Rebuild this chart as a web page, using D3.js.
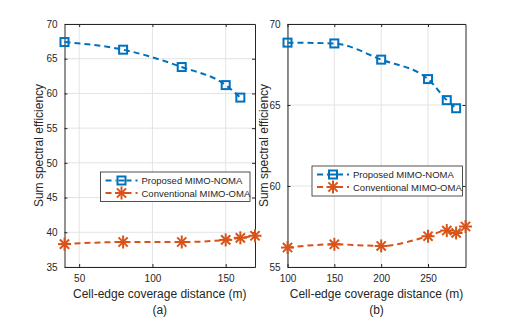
<!DOCTYPE html>
<html>
<head>
<meta charset="utf-8">
<script src="https://cdn.jsdelivr.net/npm/d3@7"></script>
<style>
  body { margin: 0; background: #fff; }
  svg { font-family: "Liberation Sans", Arial, sans-serif; }
</style>
</head>
<body>
<svg id="chart" width="512" height="317"></svg>
<script>
// panel (a)
const distA = [40, 80, 120, 150, 160];
const noma_a = [67.4, 66.3, 63.8, 61.2, 59.4];
const distOmaA = [40, 80, 120, 150, 160, 170];
const oma_a = [38.3, 38.6, 38.6, 38.9, 39.2, 39.5];
const xTicksA = [50, 100, 150];
const yTicksA = [35, 40, 45, 50, 55, 60, 65, 70];

// panel (b)
const distB = [100, 150, 200, 250, 270, 280];
const noma_b = [68.85, 68.8, 67.8, 66.6, 65.3, 64.8];
const distOmaB = [100, 150, 200, 250, 270, 280, 290];
const oma_b = [56.2, 56.4, 56.3, 56.9, 57.25, 57.1, 57.5];
const xTicksB = [100, 150, 200, 250];
const yTicksB = [55, 60, 65, 70];

const seriesNames = ["Proposed MIMO-NOMA", "Conventional MIMO-OMA"];
const blue = "#0072BD", orange = "#D95319";

const svg = d3.select("#chart");

function star(g, x, y, r, color) {
  for (let k = 0; k < 4; k++) {
    let a = k * Math.PI / 4;
    g.append("line")
      .attr("x1", x - r * Math.cos(a)).attr("y1", y - r * Math.sin(a))
      .attr("x2", x + r * Math.cos(a)).attr("y2", y + r * Math.sin(a))
      .attr("stroke", color).attr("stroke-width", 2);
  }
}
function square(g, x, y, s, color) {
  g.append("rect")
    .attr("x", x - s / 2).attr("y", y - s / 2)
    .attr("width", s).attr("height", s)
    .attr("fill", "none").attr("stroke", color).attr("stroke-width", 2);
}

function drawPanel(p) {
  let x = d3.scaleLinear().domain(p.xDom).range([p.left, p.right]);
  let y = d3.scaleLinear().domain(p.yDom).range([p.bottom, p.top]);
  let g = svg.append("g");

  // grid
  g.append("g").selectAll("line").data(p.xTicks).enter().append("line")
    .attr("x1", d => x(d)).attr("x2", d => x(d))
    .attr("y1", p.top).attr("y2", p.bottom)
    .attr("stroke", "#e3e3e3").attr("stroke-width", 1);
  g.append("g").selectAll("line").data(p.yTicks).enter().append("line")
    .attr("y1", d => y(d)).attr("y2", d => y(d))
    .attr("x1", p.left).attr("x2", p.right)
    .attr("stroke", "#e3e3e3").attr("stroke-width", 1);

  // axes
  let axB = g.append("g").attr("transform", `translate(0,${p.bottom})`)
    .call(d3.axisBottom(x).tickValues(p.xTicks).tickSizeInner(-3).tickSizeOuter(0).tickPadding(8));
  let axT = g.append("g").attr("transform", `translate(0,${p.top})`)
    .call(d3.axisTop(x).tickValues(p.xTicks).tickSizeInner(-3).tickSizeOuter(0).tickFormat(""));
  let axL = g.append("g").attr("transform", `translate(${p.left},0)`)
    .call(d3.axisLeft(y).tickValues(p.yTicks).tickSizeInner(-3).tickSizeOuter(0).tickPadding(7));
  let axR = g.append("g").attr("transform", `translate(${p.right},0)`)
    .call(d3.axisRight(y).tickValues(p.yTicks).tickSizeInner(-3).tickSizeOuter(0).tickFormat(""));
  [axB, axT, axL, axR].forEach(a => {
    a.select(".domain").attr("stroke", "#262626");
    a.selectAll(".tick line").attr("stroke", "#262626");
    a.selectAll("text").attr("fill", "#262626").attr("font-size", 10)
      .attr("font-family", "Liberation Sans, Arial, sans-serif");
  });

  // lines
  let line = d3.line().x(d => x(d[0])).y(d => y(d[1])).curve(d3.curveMonotoneX);
  let nomaPts = p.xNoma.map((d, i) => [d, p.noma[i]]);
  let omaPts = p.xOma.map((d, i) => [d, p.oma[i]]);
  g.append("path").datum(nomaPts).attr("d", line).attr("fill", "none")
    .attr("stroke", blue).attr("stroke-width", 2).attr("stroke-dasharray", "6,4");
  g.append("path").datum(omaPts).attr("d", line).attr("fill", "none")
    .attr("stroke", orange).attr("stroke-width", 2).attr("stroke-dasharray", "6,4");
  nomaPts.forEach(d => square(g, x(d[0]), y(d[1]), 8, blue));
  omaPts.forEach(d => star(g, x(d[0]), y(d[1]), 6.5, orange));

  // labels
  g.append("text").attr("x", (p.left + p.right) / 2).attr("y", 298)
    .attr("text-anchor", "middle").attr("font-size", 12).attr("fill", "#262626")
    .text("Cell-edge coverage distance (m)");
  g.append("text").attr("x", (p.left + p.right) / 2).attr("y", 314)
    .attr("text-anchor", "middle").attr("font-size", 12).attr("fill", "#262626")
    .text(p.tag);
  g.append("text").attr("transform", `translate(${p.yLabX},${(p.top + p.bottom) / 2}) rotate(-90)`)
    .attr("text-anchor", "middle").attr("font-size", 12).attr("fill", "#262626")
    .text("Sum spectral efficiency");

  // legend
  let lg = g.append("g");
  lg.append("rect").attr("x", p.lg[0]).attr("y", p.lg[1]).attr("width", p.lg[2]).attr("height", p.lg[3])
    .attr("fill", "#fff").attr("stroke", "#262626").attr("stroke-width", 0.8);
  [blue, orange].forEach((c, i) => {
    let yy = p.lg[1] + 8.5 + i * 12.5;
    let x0 = p.lg[0] + 5;
    lg.append("line").attr("x1", x0).attr("x2", x0 + 32).attr("y1", yy).attr("y2", yy)
      .attr("stroke", c).attr("stroke-width", 2).attr("stroke-dasharray", "6,4");
    if (i === 0) {
      lg.append("rect").attr("x", x0 + 11).attr("y", yy - 5).attr("width", 10).attr("height", 10).attr("fill", "#fff");
      square(lg, x0 + 16, yy, 8, c);
      lg.append("line").attr("x1", x0 + 13).attr("x2", x0 + 19).attr("y1", yy).attr("y2", yy)
        .attr("stroke", c).attr("stroke-width", 2);
    } else {
      star(lg, x0 + 16, yy, 6.5, c);
    }
    lg.append("text").attr("x", x0 + 36).attr("y", yy + 3.5).attr("font-size", 9.5).attr("fill", "#262626")
      .text(seriesNames[i]);
  });
}

drawPanel({
  xDom: [40, 170], yDom: [35, 70], left: 64.5, right: 255, top: 24, bottom: 267,
  xTicks: xTicksA, yTicks: yTicksA, xNoma: distA, noma: noma_a, xOma: distOmaA, oma: oma_a,
  tag: "(a)", yLabX: 43, lg: [100.5, 172, 149.5, 29.5]
});
drawPanel({
  xDom: [100, 290], yDom: [55, 70], left: 287.5, right: 465.5, top: 24, bottom: 267,
  xTicks: xTicksB, yTicks: yTicksB, xNoma: distB, noma: noma_b, xOma: distOmaB, oma: oma_b,
  tag: "(b)", yLabX: 268, lg: [312, 166, 150.5, 30]
});
</script>
</body>
</html>
